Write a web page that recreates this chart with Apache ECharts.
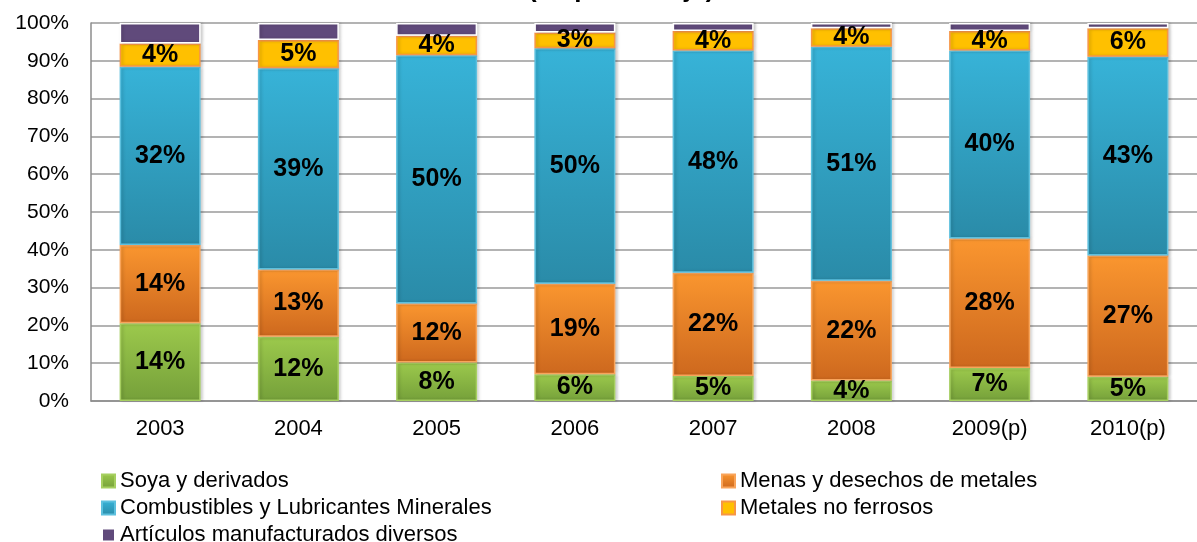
<!DOCTYPE html>
<html>
<head>
<meta charset="utf-8">
<script src="https://cdn.jsdelivr.net/npm/echarts@6/dist/echarts.min.js"></script>
<style>
  html,body{margin:0;padding:0;background:#fff;}
  #main{width:1197px;height:542px;}
</style>
</head>
<body>
<div id="main"></div>
<script>
var years = ['2003','2004','2005','2006','2007','2008','2009(p)','2010(p)'];
var yTicks = [0,10,20,30,40,50,60,70,80,90,100];

// altura de cada tramo dentro de la barra (100%)
var soya = [20.6, 17.0, 10.2, 7.1, 6.6, 5.4, 8.7, 6.4];
var menas = [20.7, 17.8, 15.6, 23.9, 27.3, 26.4, 34.3, 32.1];
var combustibles = [47.1, 53.2, 65.7, 62.3, 58.8, 61.9, 49.7, 52.6];
var metales = [6.2, 7.5, 5.1, 4.2, 5.2, 4.9, 5.2, 7.5];
var articulos = [5.4, 4.5, 3.4, 2.5, 2.1, 1.4, 2.1, 1.4];

// etiquetas que aparecen en cada tramo
var soyaLbl = [14, 12, 8, 6, 5, 4, 7, 5];
var menasLbl = [14, 13, 12, 19, 22, 22, 28, 27];
var combLbl = [32, 39, 50, 50, 48, 51, 40, 43];
var metalesLbl = [4, 5, 4, 3, 4, 4, 4, 6];

var font = "'Liberation Sans', Arial, sans-serif";

function grad(top, bottom){
    return new echarts.graphic.LinearGradient(0, 0, 0, 1, [
        {offset: 0, color: top},
        {offset: 1, color: bottom}
    ]);
}

function lbl(arr){
    return {
        show: true,
        position: 'inside',
        color: '#000',
        fontFamily: font,
        fontWeight: 'bold',
        fontSize: 25,
        formatter: function(p){ return arr[p.dataIndex] + '%'; }
    };
}

function serie(name, data, fill, border, label){
    return {
        name: name,
        type: 'bar',
        stack: 'total',
        barWidth: 81,
        data: data,
        itemStyle: {
            color: fill,
            borderColor: border,
            borderWidth: 1.5,
            shadowBlur: 3,
            shadowOffsetX: 2,
            shadowColor: 'rgba(0,0,0,0.18)'
        },
        label: label || {show: false},
        emphasis: {disabled: true}
    };
}

// una leyenda por elemento para dejar las dos columnas alineadas
function leyenda(name, x, y){
    return {
        data: [name],
        left: x, top: y, padding: 0,
        itemWidth: 13, itemHeight: 13,
        icon: 'rect',
        textStyle: {color: '#000', fontFamily: font, fontSize: 22}
    };
}

var myChart = echarts.init(document.getElementById('main'));

var option = {
    animation: false,
    title: {
        text: '(en porcentaje)',
        left: 523,
        top: -28,
        textStyle: {fontFamily: font, fontWeight: 'bold', fontSize: 26, color: '#000'}
    },
    grid: {left: 91, top: 23, width: 1120, height: 378},
    legend: [
        leyenda('Soya y derivados', 101, 470),
        leyenda('Combustibles y Lubricantes Minerales', 101, 497),
        leyenda('Artículos manufacturados diversos', 101, 524),
        leyenda('Menas y desechos de metales', 721, 470),
        leyenda('Metales no ferrosos', 721, 497)
    ],
    xAxis: {
        type: 'category',
        data: years,
        axisLine: {lineStyle: {color: '#8c8c8c', width: 1.5}},
        axisTick: {show: false},
        axisLabel: {color: '#000', fontFamily: font, fontSize: 22, margin: 17}
    },
    yAxis: {
        type: 'value',
        min: yTicks[0],
        max: yTicks[yTicks.length - 1],
        interval: 10,
        axisLine: {show: true, lineStyle: {color: '#8c8c8c', width: 1.5}},
        axisTick: {show: false},
        splitLine: {lineStyle: {color: '#9a9a9a', width: 1.5}},
        axisLabel: {color: '#000', fontFamily: font, fontSize: 21, margin: 22, formatter: '{value}%'}
    },
    series: [
        serie('Soya y derivados', soya, grad('#9cc94c', '#75a03a'), '#a6cf60', lbl(soyaLbl)),
        serie('Menas y desechos de metales', menas, grad('#fa962f', '#cd681e'), '#f9a45a', lbl(menasLbl)),
        serie('Combustibles y Lubricantes Minerales', combustibles, grad('#37b3d8', '#2a8ba8'), '#5cc0de', lbl(combLbl)),
        serie('Metales no ferrosos', metales, '#ffc000', '#f79646', lbl(metalesLbl)),
        serie('Artículos manufacturados diversos', articulos, '#604a7b', '#ffffff')
    ]
};

myChart.setOption(option);
</script>
</body>
</html>
